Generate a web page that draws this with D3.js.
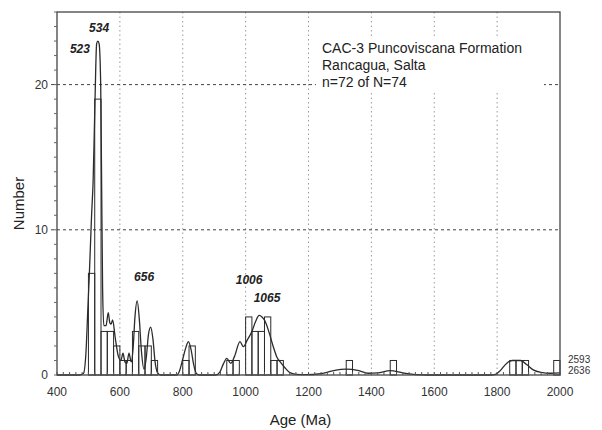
<!DOCTYPE html>
<html>
<head>
<meta charset="utf-8">
<script src="https://cdn.jsdelivr.net/npm/d3@7"></script>
<style>
  body { margin: 0; background: #fff; }
  text { font-family: "Liberation Sans", Arial, sans-serif; }
</style>
</head>
<body>
<div id="chart-area"></div>
<script>
// histogram bins (start age, Ma) and counts
var binStarts = [500, 520, 540, 560, 580, 600, 620, 640, 660, 680, 700,
                 800, 820, 940, 960, 1000, 1020, 1040, 1060, 1080, 1100,
                 1320, 1460, 1840, 1860, 1880, 1980];
var binCounts = [7, 19, 3, 3, 2, 1, 1, 3, 2, 2, 1,
                 1, 2, 1, 1, 4, 3, 3, 4, 1, 1,
                 1, 1, 1, 1, 1, 1];
var binWidth = 20;

// probability density curve
var kdeAges = [400, 470, 484, 492, 498, 503, 510, 515, 521, 526, 530, 534, 539, 542, 545, 549,
               556, 563, 568, 572, 577, 585, 595, 603, 610, 616, 622, 629, 636, 642, 648, 655,
               662, 668, 677, 684, 691, 698, 705, 712, 720, 730,
               780, 790, 800, 810, 818, 826, 834, 842, 852,
               905, 918, 930, 940, 953, 965, 982, 993, 1005, 1020, 1032, 1043, 1052, 1062,
               1075, 1088, 1100, 1110, 1125, 1141, 1160, 1190,
               1240, 1280, 1320, 1360, 1390, 1420, 1460, 1500, 1540, 1580,
               1780, 1795, 1810, 1830, 1848, 1875, 1895, 1915, 1940, 1970, 2000];
var kdeValues = [0, 0, 0.1, 1.5, 4.5, 7, 11, 13.4, 19, 22.8, 23, 22.8, 20, 13, 6, 3.4,
                 3.4, 4.3, 3.6, 3.5, 3.8, 2.6, 1.3, 1.0, 1.5, 0.9, 0.8, 1.5, 0.9, 1.8, 4.0, 5.1,
                 3.8, 1.8, 0.4, 1.2, 2.8, 3.3, 2.5, 0.9, 0.15, 0,
                 0, 0.3, 1.1, 1.9, 2.3, 1.8, 0.8, 0.15, 0,
                 0, 0.2, 0.8, 1.15, 0.8, 1.3, 2.3, 1.95, 2.4, 3.0, 3.7, 4.1, 4.0, 3.7,
                 2.9, 1.95, 1.2, 0.9, 0.5, 0.16, 0.05, 0.02,
                 0.1, 0.3, 0.4, 0.3, 0.12, 0.15, 0.3, 0.15, 0.03, 0,
                 0, 0.05, 0.3, 0.8, 1.0, 1.0, 0.7, 0.35, 0.18, 0.12, 0.15];

var xTicks = [400, 600, 800, 1000, 1200, 1400, 1600, 1800, 2000];
var yTicks = [0, 10, 20];

var peakLabels = ["523", "534", "656", "1006", "1065"];
var peakAges = [473, 534, 677, 1011, 1068];
var peakHeights = [22.2, 23.65, 6.5, 6.3, 5.0];

var infoLines = ["CAC-3 Puncoviscana Formation", "Rancagua, Salta", "n=72 of N=74"];
var offScale = ["2593", "2636"];

var width = 602, height = 430;
var plotLeft = 57, plotRight = 560, plotTop = 12, plotBottom = 375;

var x = d3.scaleLinear().domain([400, 2000]).range([plotLeft, plotRight]);
var y = d3.scaleLinear().domain([0, 25]).range([plotBottom, plotTop]);

var svg = d3.select("#chart-area").append("svg")
    .attr("width", width)
    .attr("height", height);

var ink = "#2b2b2b";

// vertical dotted grid
svg.selectAll(".vgrid")
    .data(xTicks.slice(1, -1))
    .enter().append("line")
        .attr("x1", function(d){ return x(d); })
        .attr("x2", function(d){ return x(d); })
        .attr("y1", plotTop)
        .attr("y2", plotBottom)
        .attr("stroke", "#9a9a9a")
        .attr("stroke-width", 1)
        .attr("stroke-dasharray", "1.5,3");

// horizontal dashed grid
svg.selectAll(".hgrid")
    .data(yTicks.slice(1))
    .enter().append("line")
        .attr("x1", plotLeft - 6)
        .attr("x2", plotRight)
        .attr("y1", function(d){ return y(d); })
        .attr("y2", function(d){ return y(d); })
        .attr("stroke", "#444")
        .attr("stroke-width", 1)
        .attr("stroke-dasharray", "3,3");

// white box behind the sample info
svg.append("rect")
    .attr("x", 316)
    .attr("y", 36)
    .attr("width", 228)
    .attr("height", 54)
    .attr("fill", "#fff");

// histogram bars
svg.selectAll(".bar")
    .data(binStarts)
    .enter().append("rect")
        .attr("x", function(d){ return x(d); })
        .attr("y", function(d, i){ return y(binCounts[i]); })
        .attr("width", function(d){ return x(d + binWidth) - x(d); })
        .attr("height", function(d, i){ return y(0) - y(binCounts[i]); })
        .attr("fill", "none")
        .attr("stroke", ink)
        .attr("stroke-width", 1);

// density curve
var line = d3.line()
    .x(function(d){ return x(d[0]); })
    .y(function(d){ return y(d[1]); })
    .curve(d3.curveMonotoneX);

svg.append("path")
    .datum(d3.zip(kdeAges, kdeValues))
    .attr("d", line)
    .attr("fill", "none")
    .attr("stroke", ink)
    .attr("stroke-width", 1.3);

// frame
svg.append("rect")
    .attr("x", plotLeft)
    .attr("y", plotTop)
    .attr("width", plotRight - plotLeft)
    .attr("height", plotBottom - plotTop)
    .attr("fill", "none")
    .attr("stroke", "#444")
    .attr("stroke-width", 1.3);

// minor ticks
svg.selectAll(".ytick")
    .data(d3.range(0, 26, 1))
    .enter().append("line")
        .attr("x1", plotLeft - 3)
        .attr("x2", plotLeft)
        .attr("y1", function(d){ return y(d); })
        .attr("y2", function(d){ return y(d); })
        .attr("stroke", "#666");

svg.selectAll(".xtick")
    .data(d3.range(400, 2001, 20))
    .enter().append("line")
        .attr("x1", function(d){ return x(d); })
        .attr("x2", function(d){ return x(d); })
        .attr("y1", plotBottom)
        .attr("y2", plotBottom - 3)
        .attr("stroke", "#555");

// tick labels
svg.selectAll(".xlabel")
    .data(xTicks)
    .enter().append("text")
        .attr("x", function(d){ return x(d); })
        .attr("y", plotBottom + 21)
        .attr("text-anchor", "middle")
        .attr("font-size", "12px")
        .attr("fill", "#333")
        .text(function(d){ return d; });

svg.selectAll(".ylabel")
    .data(yTicks)
    .enter().append("text")
        .attr("x", plotLeft - 9)
        .attr("y", function(d){ return y(d) + 4; })
        .attr("text-anchor", "end")
        .attr("font-size", "12px")
        .attr("fill", "#333")
        .text(function(d){ return d; });

// axis titles
svg.append("text")
    .attr("x", (plotLeft + plotRight) / 2 - 8)
    .attr("y", 425)
    .attr("text-anchor", "middle")
    .attr("font-size", "15px")
    .attr("fill", "#222")
    .text("Age (Ma)");

svg.append("text")
    .attr("transform", "translate(24," + ((plotTop + plotBottom) / 2 + 10) + ") rotate(-90)")
    .attr("text-anchor", "middle")
    .attr("font-size", "15px")
    .attr("fill", "#222")
    .text("Number");

// peak labels
svg.selectAll(".peak")
    .data(peakLabels)
    .enter().append("text")
        .attr("x", function(d, i){ return x(peakAges[i]); })
        .attr("y", function(d, i){ return y(peakHeights[i]); })
        .attr("text-anchor", "middle")
        .attr("font-size", "12px")
        .attr("font-weight", "bold")
        .attr("font-style", "italic")
        .attr("fill", "#222")
        .text(function(d){ return d; });

// sample info
svg.selectAll(".info")
    .data(infoLines)
    .enter().append("text")
        .attr("x", 322)
        .attr("y", function(d, i){ return 53 + i * 17; })
        .attr("font-size", "14px")
        .attr("fill", "#222")
        .text(function(d){ return d; });

// ages off the scale
svg.selectAll(".off")
    .data(offScale)
    .enter().append("text")
        .attr("x", 568)
        .attr("y", function(d, i){ return 363 + i * 11; })
        .attr("font-size", "10px")
        .attr("fill", "#333")
        .text(function(d){ return d; });
</script>
</body>
</html>
